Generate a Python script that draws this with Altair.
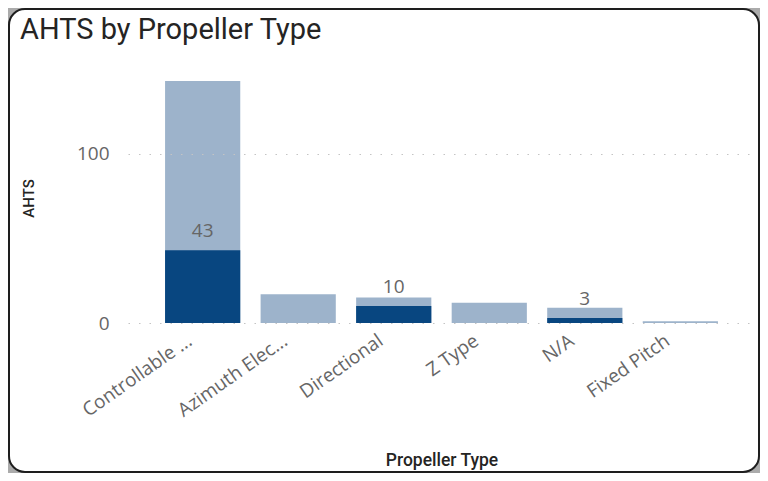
import altair as alt
import pandas as pd

chart_title = ["AHTS by Propeller Type"]
categories = ["Controllable ...", "Azimuth Elec...", "Directional", "Z Type", "N/A", "Fixed Pitch"]
total_ahts = [143, 17, 15, 12, 9, 1]
highlighted_ahts = [43, 0, 10, 0, 3, 0]
y_ticks = [0, 100]

df = pd.DataFrame({
    "Propeller Type": categories,
    "Total": total_ahts,
    "Highlighted": highlighted_ahts,
})

LABEL_FONT = "Open Sans"
TITLE_FONT = "Roboto"
DARK_TEXT = "#252423"
GRAY_TEXT = "#666666"

x_axis = alt.Axis(
    title="Propeller Type",
    labelAngle=325,
    labelAlign="right",
    labelBaseline="top",
    labelPadding=8,
    labelOffset=-18,
    labelFont=LABEL_FONT,
    labelFontSize=19,
    labelColor=GRAY_TEXT,
    labelLimit=300,
    domain=False,
    ticks=False,
    grid=False,
    titleFont=TITLE_FONT,
    titleFontSize=17.5,
    titleFontWeight=500,
    titleColor=DARK_TEXT,
    titleBaseline="alphabetic",
    titleY=142,
    zindex=1,
)

y_axis = alt.Axis(
    title="AHTS",
    values=y_ticks,
    labelFont=LABEL_FONT,
    labelFontSize=19,
    labelColor=GRAY_TEXT,
    labelPadding=19,
    domain=False,
    ticks=False,
    grid=True,
    gridColor="#C4C4C4",
    gridDash=[1.5, 9],
    gridWidth=1.2,
    titleFont=TITLE_FONT,
    titleFontSize=15,
    titleFontWeight=500,
    titleColor=DARK_TEXT,
    titleAngle=270,
    titleAlign="center",
    titleBaseline="alphabetic",
    titleX=-95,
    titleY=117,
    zindex=1,
)

x_enc = alt.X(
    "Propeller Type:N",
    sort=categories,
    scale=alt.Scale(paddingInner=0.213, paddingOuter=0.388),
    axis=x_axis,
)
y_scale = alt.Scale(domain=[0, 143], nice=False, zero=True)

card = alt.Chart(pd.DataFrame({"k": [0]})).mark_rect(
    cornerRadius=16, fill="white", stroke="#1e1e1e", strokeWidth=2
).encode(
    x=alt.value(-119),
    x2=alt.value(631),
    y=alt.value(-72),
    y2=alt.value(391),
)

heading = alt.Chart(pd.DataFrame({"title": chart_title})).mark_text(
    align="left", baseline="alphabetic",
    font=TITLE_FONT, fontSize=29, color=DARK_TEXT,
).encode(
    x=alt.value(-108),
    y=alt.value(-42),
    text="title:N",
)

base = alt.Chart(df)

light = base.mark_bar(color="#9DB3CB").encode(
    x=x_enc,
    y=alt.Y("Total:Q", scale=y_scale, axis=y_axis, title="AHTS"),
)

dark = base.transform_filter("datum.Highlighted > 0").mark_bar(color="#084680").encode(
    x=x_enc,
    y=alt.Y("Highlighted:Q", scale=y_scale, axis=y_axis, title="AHTS"),
)

labels = base.transform_filter("datum.Highlighted > 0").mark_text(
    dy=-13, baseline="alphabetic", align="center",
    font=LABEL_FONT, fontSize=19, color=GRAY_TEXT,
).encode(
    x=x_enc,
    y=alt.Y("Highlighted:Q", scale=y_scale, axis=y_axis, title="AHTS"),
    text=alt.Text("Highlighted:Q"),
)

chart = alt.layer(card, heading, light, dark, labels).properties(
    width=627,
    height=242,
    autosize=alt.AutoSizeParams(type="none"),
    padding={"left": 120, "top": 73, "right": 5, "bottom": 150},
    background="#ABABAB",
).configure_view(stroke=None)

chart.save("out.html", embed_options={"renderer": "svg", "actions": False})
